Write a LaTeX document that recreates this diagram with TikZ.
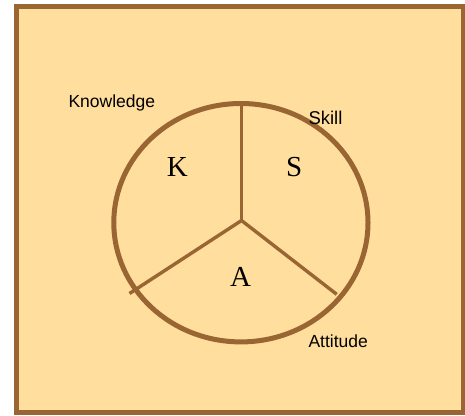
\documentclass[tikz,border=0pt]{standalone}
\usepackage{fontspec}
\newfontfamily\labfont{Liberation Sans}
\newfontfamily\letfont{Liberation Serif}
\definecolor{frameBrown}{RGB}{153,102,51}
\definecolor{paper}{RGB}{255,222,158}
\tikzset{
  framebox/.style={draw=frameBrown, fill=paper, line width=4.5pt},
  ring/.style={draw=frameBrown, line width=5pt},
  spoke/.style={draw=frameBrown, line width=3.4pt},
  lab/.style={anchor=base west, inner sep=0pt, font=\labfont\fontsize{17.5}{20}\selectfont},
  letter/.style={anchor=base, inner sep=0pt, font=\letfont\fontsize{29}{32}\selectfont},
}
\begin{document}
\begin{tikzpicture}[x=1pt, y=-1pt]
\useasboundingbox (0,0) rectangle (465,415);
\draw[framebox] (16.5,6.5) rectangle (463.5,412.5);
\coordinate (ctr) at (241.5,220.5);
\coordinate (top) at (241.5,103.5);
\coordinate (ll) at (129.5,293.5);
\coordinate (lr) at (336.7,294.3);
\draw[ring] (240.9,222.7) ellipse [x radius=127.1pt, y radius=119.2pt];
\draw[spoke] (ctr) -- (top);
\draw[spoke] (ctr) -- (ll);
\draw[spoke] (ctr) -- (lr);
\node[lab] (know) at (68.3,107.3) {Knowledge};
\node[lab, font=\labfont\fontsize{18.5}{21}\selectfont] (skill) at (308.3,124) {Skill};
\node[lab] (att) at (308.3,347.3) {Attitude};
\node[letter] (K) at (177.3,176) {K};
\node[letter] (S) at (294.3,176) {S};
\node[letter] (A) at (240.7,286.7) {A};
\end{tikzpicture}
\end{document}
